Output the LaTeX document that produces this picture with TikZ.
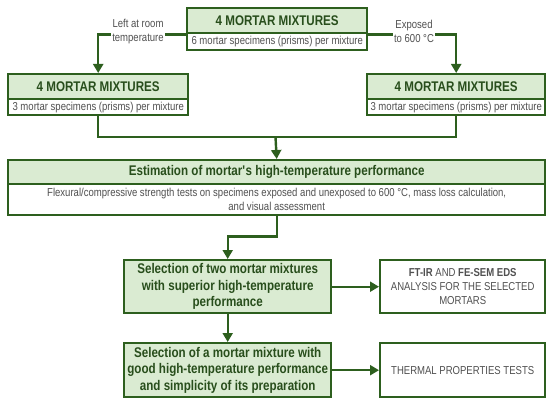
\documentclass[tikz,border=0pt]{standalone}
\usepackage{fontspec}
\setmainfont{Liberation Sans}[FakeStretch=0.83]
\usetikzlibrary{arrows.meta}
\definecolor{dg}{RGB}{45,95,30}
\definecolor{lg}{RGB}{218,235,210}
\definecolor{tg}{RGB}{80,80,80}
\definecolor{hg}{RGB}{40,78,28}
\begin{document}
\begin{tikzpicture}[x=1pt,y=-1pt,
  hdr/.style={draw=dg, line width=2.4pt, fill=lg, text=hg, font=\fontsize{14}{16}\selectfont\bfseries, inner sep=0pt, anchor=north west},
  bdy/.style={draw=dg, line width=2.4pt, fill=white, text=tg, font=\fontsize{11.5}{14}\selectfont, inner sep=0pt, anchor=north west, align=center},
  selbox/.style={draw=dg, line width=2.4pt, fill=lg, text=hg, font=\fontsize{14}{16.5}\selectfont\bfseries, inner sep=0pt, anchor=north west, align=center, minimum width=207pt},
  resbox/.style={draw=dg, line width=2.4pt, fill=white, text=tg, font=\fontsize{11.5}{14}\selectfont, inner sep=0pt, anchor=north west, align=center, minimum width=165pt},
  lbl/.style={fill=white, text=tg, font=\fontsize{11.5}{14}\selectfont, inner sep=1pt, align=center},
  conn/.style={draw=dg, line width=2.4pt},
  arr/.style={conn, -{Triangle[length=9pt,width=10pt]}}]
\useasboundingbox (0,0) rectangle (550,404);
% top
\node[hdr, minimum width=180pt, minimum height=25pt] (topH) at (186,7) {4 MORTAR MIXTURES};
\node[bdy, minimum width=180pt, minimum height=17pt] (topB) at (186,32) {6 mortar specimens (prisms) per mixture};
% left / right
\node[hdr, minimum width=180pt, minimum height=25pt] (leftH) at (7,73) {4 MORTAR MIXTURES};
\node[bdy, minimum width=180pt, minimum height=16pt] (leftB) at (7,98) {3 mortar specimens (prisms) per mixture};
\node[hdr, minimum width=178pt, minimum height=25pt] (rightH) at (366,73) {4 MORTAR MIXTURES};
\node[bdy, minimum width=178pt, minimum height=16pt] (rightB) at (366,98) {3 mortar specimens (prisms) per mixture};
% estimation
\node[hdr, minimum width=537pt, minimum height=24pt] (estH) at (7,159) {Estimation of mortar\textquotesingle s high-temperature performance};
\node[bdy, minimum width=537pt, minimum height=31pt] (estB) at (7,183) {Flexural/compressive strength tests on specimens exposed and unexposed to 600 °C, mass loss calculation,\\ and visual assessment};
% selections
\node[selbox, minimum height=53pt] (sel1) at (123,259) {Selection of two mortar mixtures\\ with superior high-temperature\\ performance};
\node[resbox, minimum height=53pt] (res1) at (379,259) {\textbf{FT-IR} AND \textbf{FE-SEM EDS}\\ ANALYSIS FOR THE SELECTED\\ MORTARS};
\node[selbox, minimum height=54pt] (sel2) at (123,342) {Selection of a mortar mixture with\\ good high-temperature performance\\ and simplicity of its preparation};
\node[resbox, minimum height=54pt] (res2) at (379,342) {THERMAL PROPERTIES TESTS};
% connectors
\coordinate (join) at (275.5,137);
\draw[arr] (topH.south west) -| (leftH.north);
\draw[arr] (topH.south east) -| (rightH.north);
\draw[conn] (leftB.south) |- (join) -| (rightB.south);
\draw[arr] (join) -- (estH.north);
\draw[arr] (estB.south) -- ++(0,20) -| (sel1.north);
\draw[arr] (sel1.east) -- (res1.west);
\draw[arr] (sel1.south) -- (sel2.north);
\draw[arr] (sel2.east) -- (res2.west);
% labels
\node[lbl] (lblL) at (138,31.5) {Left at room\\ temperature};
\node[lbl] (lblR) at (414,31.5) {Exposed\\ to 600 °C};
\end{tikzpicture}
\end{document}
